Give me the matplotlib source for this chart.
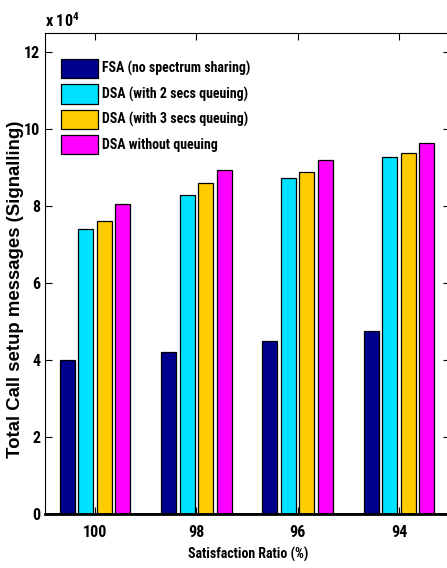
import numpy as np
import matplotlib
matplotlib.use("Agg")
import matplotlib.pyplot as plt
from matplotlib.ticker import FuncFormatter

# call setup message counts per satisfaction ratio
ratios = ["100", "98", "96", "94"]
series_names = [
    "FSA (no spectrum sharing)",
    "DSA (with 2 secs queuing)",
    "DSA (with 3 secs queuing)",
    "DSA without queuing",
]
fsa = [40000, 42200, 45000, 47500]
dsa_2s = [74000, 82900, 87300, 92800]
dsa_3s = [76000, 85900, 88800, 93800]
dsa_noq = [80500, 89300, 91900, 96300]
colors = ["#00008F", "#00E1FF", "#FFCC00", "#FF00FF"]

plt.rcParams["font.family"] = ["Roboto Condensed", "DejaVu Sans"]
plt.rcParams["font.weight"] = "bold"
plt.rcParams["mathtext.fontset"] = "custom"
plt.rcParams["mathtext.rm"] = "Roboto Condensed:bold"
plt.rcParams["mathtext.default"] = "rm"

fig = plt.figure(figsize=(4.47, 5.68), dpi=100)
ax = fig.add_axes([0.0996, 0.0951, 0.906, 0.847])

x = np.arange(1, len(ratios) + 1)
step = 0.183
width = 0.149
for i, (vals, name, col) in enumerate(zip([fsa, dsa_2s, dsa_3s, dsa_noq], series_names, colors)):
    ax.bar(x + (i - 1.5) * step, vals, width, color=col, edgecolor="black",
           linewidth=0.9, label=name, zorder=2)

ax.set_xlim(0.5, 4.5)
ax.set_ylim(0, 125000)
ax.set_xticks(x)
ax.set_xticklabels(ratios)
ax.set_yticks(np.arange(0, 120001, 20000))
ax.yaxis.set_major_formatter(FuncFormatter(lambda v, p: f"{v / 1e4:g}"))

ax.tick_params(axis="both", direction="in", length=5, width=0.8, labelsize=11.5,
               top=True, right=True)
ax.tick_params(axis="x", pad=8)
ax.tick_params(axis="y", pad=3)
for s in ["left", "top", "right"]:
    ax.spines[s].set_linewidth(0.8)
ax.spines["bottom"].set_linewidth(2)
ax.axhline(0, color="black", linewidth=2, zorder=3)

ax.text(0.0, 1.006, r"x 10$^{4}$", transform=ax.transAxes, fontsize=11.5,
        fontweight="bold", ha="left", va="bottom")

ax.set_xlabel("Satisfaction Ratio (%)", fontsize=10, fontweight="bold")
ax.xaxis.set_label_coords(0.502, -0.068)
ax.set_ylabel("Total Call setup messages (Signalling)", fontsize=13.4,
              fontweight="bold", family=["Liberation Sans", "DejaVu Sans"])
ax.yaxis.set_label_coords(-0.05, 0.466)

ax.legend(loc="upper left", bbox_to_anchor=(0.041, 0.946), frameon=False,
          fontsize=10, handlelength=2.66, handleheight=1.77, labelspacing=0.43,
          handletextpad=0.25, borderpad=0, borderaxespad=0)

fig.savefig("out.png", dpi=100)
